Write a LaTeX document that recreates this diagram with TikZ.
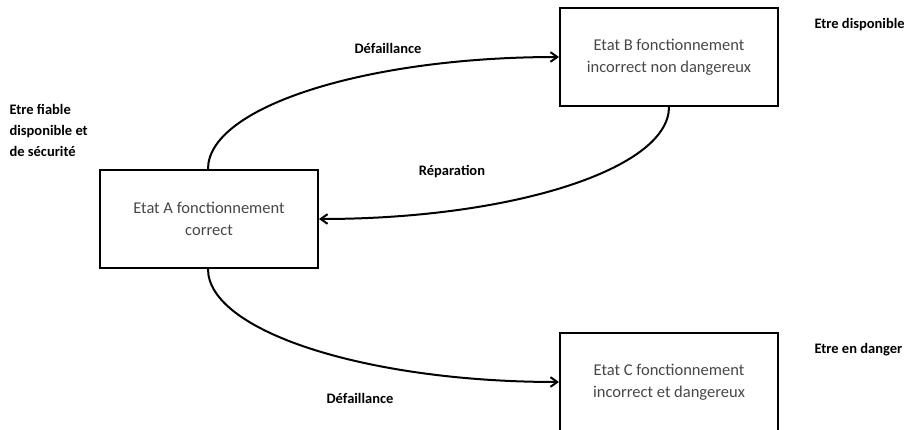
\documentclass[tikz,border=0pt]{standalone}
\usepackage{fontspec}
\setmainfont{Carlito}
\usetikzlibrary{arrows.meta, positioning}
\definecolor{ctext}{HTML}{474747}

\begin{document}
\begin{tikzpicture}[
  >={Straight Barb[length=2.4mm, width=3.4mm]},
  every node/.style={align=center},
  state/.style={draw, line width=2pt, minimum width=218pt, minimum height=98pt,
                inner sep=0pt, text=ctext, font=\fontsize{16.5}{22}\selectfont},
  lbl/.style={font=\fontsize{14.5}{21}\selectfont\bfseries},
  arr/.style={->, line width=2pt},
]
\useasboundingbox (0,0) rectangle (914pt,429pt);
% states
\node[state] (A) at (209pt,210pt) {Etat A fonctionnement\\correct};
\node[state, above right=62pt and 240pt of A] (B) {Etat B fonctionnement\\incorrect non dangereux};
\node[state, below right=63pt and 240pt of A] (C) {Etat C fonctionnement\\incorrect et dangereux};
% side labels
\node[lbl, anchor=west, align=left] (fiab) at (6pt,299pt) {Etre fiable\\disponible et\\de s\'ecurit\'e};
\node[lbl, anchor=west] (disp) at (811pt,404pt) {Etre disponible};
\node[lbl, anchor=west] (dang) at (811pt,79pt) {Etre en danger};
% transitions
\draw[arr] ([xshift=-1pt]A.north) .. controls +(90:62pt) and +(180:193pt) .. (B.west);
\draw[arr] (B.south) .. controls +(-90:62pt) and +(0:193pt) .. (A.east);
\draw[arr] ([xshift=-1pt]A.south) .. controls +(-90:62pt) and +(180:193pt) .. (C.west);
\node[lbl] (d1) at (388pt,381pt) {D\'efaillance};
\node[lbl] (rep) at (452pt,257pt) {R\'eparation};
\node[lbl] (d2) at (360pt,31pt) {D\'efaillance};
\end{tikzpicture}
\end{document}
